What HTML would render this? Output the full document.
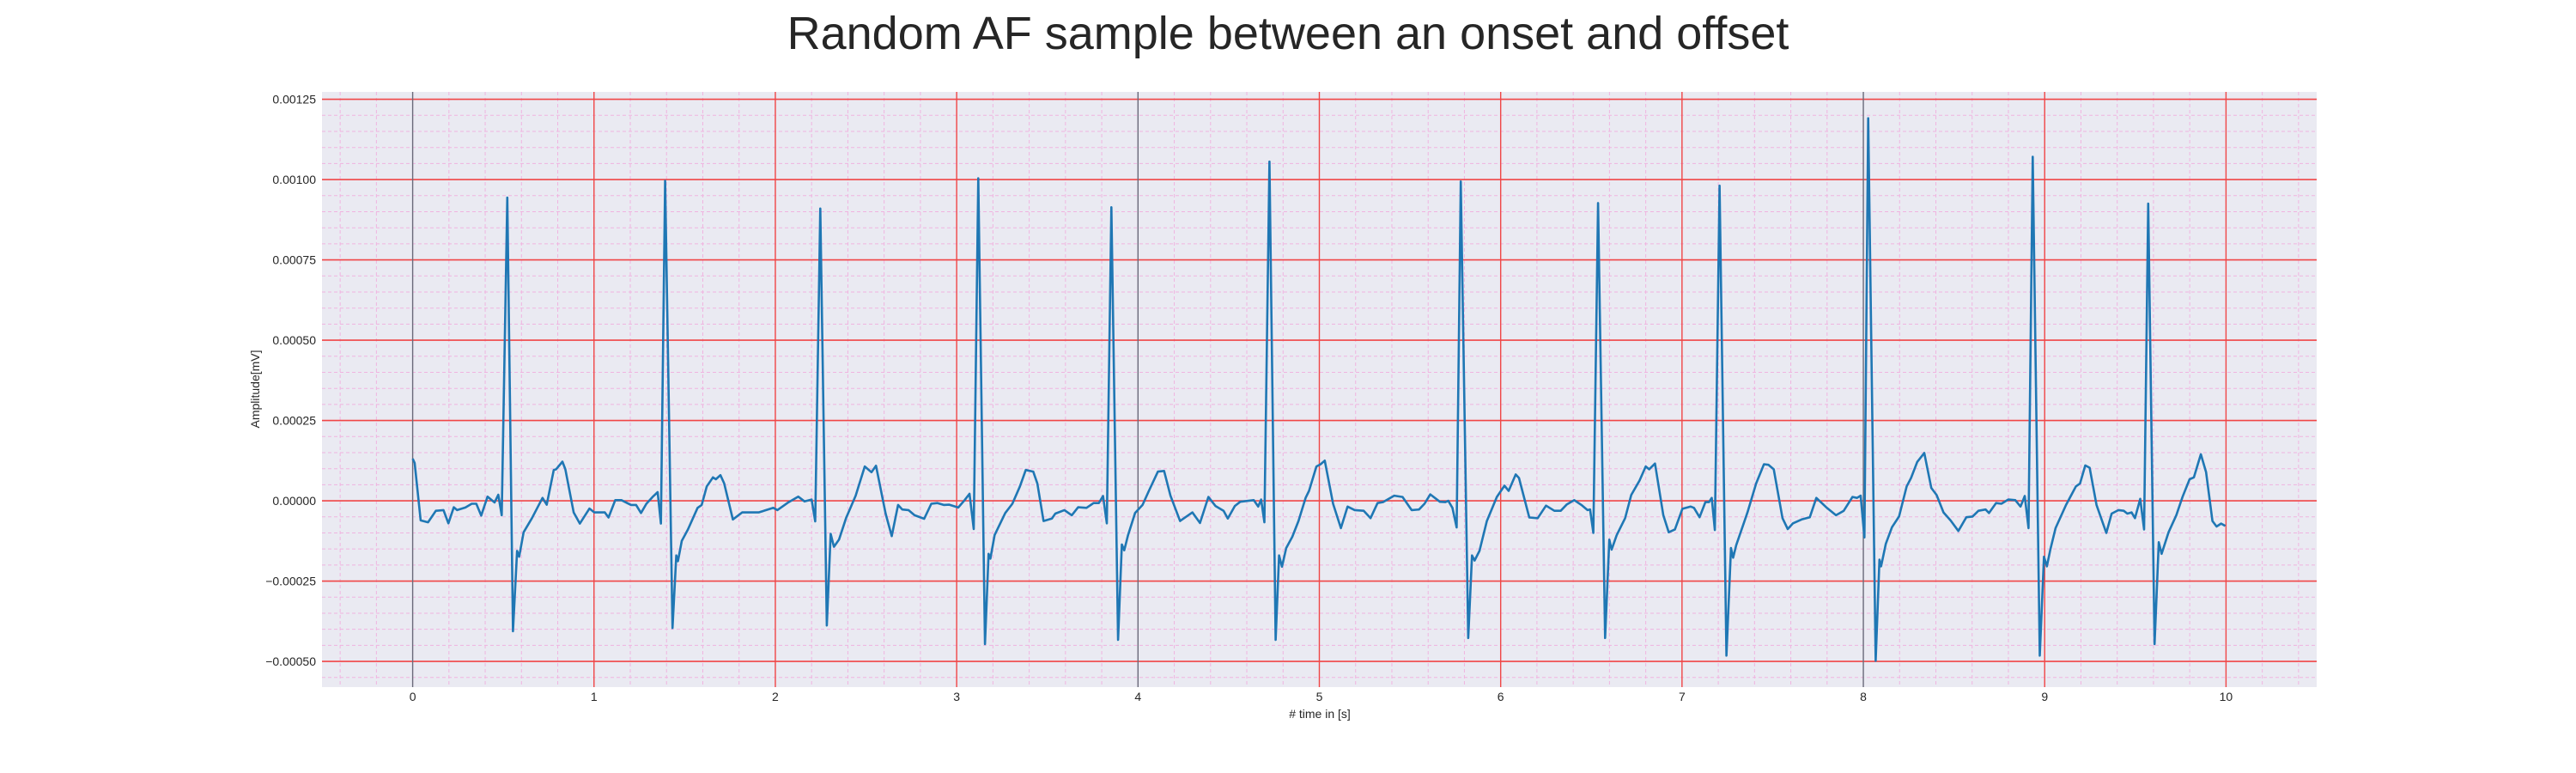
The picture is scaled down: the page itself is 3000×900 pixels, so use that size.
<!DOCTYPE html>
<html><head><meta charset="utf-8"><style>
html,body{margin:0;padding:0;background:#fff;width:3000px;height:900px;overflow:hidden}
svg{display:block}
text{font-family:"Liberation Sans",Arial,sans-serif;fill:#262626}
</style></head><body>
<svg id="chart" width="3000" height="900" viewBox="0 0 3000 900" xmlns="http://www.w3.org/2000/svg">
<text x="1500" y="57" font-size="54" text-anchor="middle">Random AF sample between an onset and offset</text>
<rect x="375" y="107" width="2323" height="693" fill="#eaeaf2"/>
<g id="grid"></g>
<g id="ticks"></g>
<g id="series"></g>
<text transform="translate(302,453) rotate(-90)" font-size="14" text-anchor="middle">Amplitude[mV]</text>
<text x="1537" y="836" font-size="14" text-anchor="middle"># time in [s]</text>
</svg>
<script>
const xTicks=[0,1,2,3,4,5,6,7,8,9,10];
const yTicks=[-0.0005,-0.00025,0,0.00025,0.0005,0.00075,0.001,0.00125];
const yTickLabels=["\u22120.00050","\u22120.00025","0.00000","0.00025","0.00050","0.00075","0.00100","0.00125"];
const grayX=[0,4,8];
const times=[0,0.011,0.044,0.085,0.128,0.170,0.197,0.227,0.245,0.291,0.326,0.351,0.378,0.413,0.452,0.472,0.491,0.522,0.553,0.576,0.587,0.612,0.658,0.716,0.739,0.778,0.791,0.826,0.842,0.888,0.922,0.975,1.002,1.060,1.080,1.117,1.151,1.204,1.232,1.259,1.289,1.323,1.351,1.369,1.392,1.433,1.454,1.463,1.484,1.518,1.571,1.594,1.622,1.656,1.672,1.697,1.718,1.766,1.817,1.858,1.908,1.989,2.011,2.069,2.126,2.161,2.200,2.220,2.248,2.284,2.305,2.323,2.351,2.390,2.443,2.493,2.530,2.555,2.608,2.642,2.677,2.700,2.734,2.768,2.821,2.860,2.894,2.929,2.959,3.009,3.044,3.071,3.094,3.119,3.156,3.176,3.186,3.209,3.268,3.307,3.349,3.381,3.422,3.445,3.479,3.525,3.544,3.594,3.635,3.670,3.716,3.755,3.784,3.807,3.828,3.853,3.890,3.911,3.924,3.945,3.984,4.025,4.060,4.110,4.144,4.179,4.232,4.300,4.342,4.388,4.427,4.472,4.495,4.534,4.564,4.638,4.663,4.679,4.697,4.725,4.759,4.778,4.794,4.817,4.851,4.885,4.924,4.943,4.984,5.007,5.030,5.076,5.119,5.156,5.195,5.245,5.282,5.321,5.351,5.413,5.459,5.509,5.550,5.580,5.612,5.665,5.695,5.711,5.734,5.757,5.780,5.821,5.842,5.856,5.883,5.924,5.979,6.021,6.044,6.083,6.101,6.158,6.204,6.250,6.296,6.331,6.365,6.406,6.445,6.479,6.493,6.511,6.537,6.576,6.599,6.612,6.640,6.686,6.720,6.766,6.800,6.819,6.851,6.897,6.927,6.961,7.002,7.048,7.066,7.097,7.129,7.149,7.164,7.181,7.207,7.245,7.270,7.282,7.299,7.361,7.409,7.452,7.477,7.506,7.554,7.583,7.612,7.660,7.705,7.741,7.795,7.849,7.892,7.940,7.965,7.985,8.006,8.027,8.068,8.089,8.098,8.124,8.158,8.197,8.239,8.263,8.297,8.336,8.375,8.404,8.442,8.481,8.524,8.568,8.602,8.635,8.674,8.693,8.732,8.761,8.799,8.838,8.867,8.890,8.911,8.934,8.973,8.996,9.012,9.031,9.060,9.118,9.172,9.195,9.224,9.248,9.286,9.340,9.369,9.407,9.436,9.456,9.479,9.498,9.527,9.548,9.571,9.606,9.629,9.645,9.683,9.726,9.761,9.799,9.823,9.861,9.890,9.925,9.948,9.973,9.996];
// amplitudes in units of 1e-4 mV
const ampE4=[1.31,1.18,-0.61,-0.67,-0.31,-0.29,-0.70,-0.20,-0.29,-0.21,-0.09,-0.09,-0.46,0.13,-0.05,0.19,-0.45,9.44,-4.06,-1.56,-1.74,-0.98,-0.54,0.09,-0.12,0.96,0.98,1.22,0.98,-0.36,-0.71,-0.24,-0.36,-0.36,-0.52,0.02,0.02,-0.13,-0.13,-0.38,-0.09,0.12,0.27,-0.71,9.96,-3.96,-1.70,-1.88,-1.25,-0.89,-0.22,-0.13,0.45,0.73,0.67,0.80,0.54,-0.58,-0.36,-0.36,-0.36,-0.22,-0.29,-0.06,0.13,-0.02,0.04,-0.64,9.10,-3.88,-1.03,-1.43,-1.21,-0.54,0.16,1.07,0.89,1.09,-0.40,-1.10,-0.13,-0.27,-0.29,-0.45,-0.56,-0.09,-0.07,-0.13,-0.12,-0.21,0.02,0.22,-0.88,10.04,-4.46,-1.65,-1.80,-1.07,-0.38,-0.09,0.45,0.96,0.91,0.54,-0.63,-0.55,-0.40,-0.29,-0.45,-0.20,-0.22,-0.07,-0.07,0.15,-0.70,9.14,-4.33,-1.36,-1.54,-1.07,-0.38,-0.13,0.31,0.91,0.93,0.16,-0.63,-0.36,-0.69,0.12,-0.16,-0.31,-0.55,-0.16,-0.03,0.02,-0.18,0.04,-0.67,10.56,-4.33,-1.70,-2.05,-1.47,-1.12,-0.63,0.09,0.31,1.07,1.14,1.25,-0.09,-0.85,-0.18,-0.29,-0.31,-0.54,-0.07,-0.04,0.16,0.12,-0.29,-0.27,-0.09,0.20,-0.03,-0.04,0.00,-0.22,-0.83,9.94,-4.27,-1.70,-1.86,-1.56,-0.63,0.12,0.47,0.31,0.82,0.71,-0.52,-0.54,-0.15,-0.31,-0.31,-0.11,0.02,-0.13,-0.29,-0.27,-1.00,9.27,-4.27,-1.21,-1.52,-1.07,-0.54,0.18,0.63,1.07,0.98,1.16,-0.45,-0.98,-0.89,-0.25,-0.18,-0.22,-0.51,-0.04,-0.04,0.09,-0.91,9.81,-4.82,-1.47,-1.77,-1.38,-0.36,0.54,1.14,1.12,0.98,-0.54,-0.88,-0.70,-0.58,-0.51,0.09,-0.20,-0.45,-0.31,0.12,0.09,0.16,-1.14,11.91,-4.98,-1.83,-2.04,-1.34,-0.82,-0.49,0.45,0.71,1.21,1.49,0.40,0.18,-0.36,-0.61,-0.94,-0.51,-0.49,-0.31,-0.27,-0.38,-0.07,-0.09,0.04,0.02,-0.18,0.15,-0.85,10.71,-4.82,-1.74,-2.04,-1.52,-0.85,-0.13,0.45,0.54,1.10,1.03,-0.13,-1.00,-0.40,-0.29,-0.31,-0.40,-0.36,-0.54,0.06,-0.89,9.25,-4.46,-1.29,-1.65,-0.98,-0.45,0.13,0.67,0.73,1.45,0.89,-0.63,-0.80,-0.71,-0.78];

const NS="http://www.w3.org/2000/svg";
const L=375,R=2698,T=107,B=800;
const xMin=-0.5,xMax=10.5,yMin=-0.000580,yMax=0.001273;
function xs(t){return L+(t-xMin)/(xMax-xMin)*(R-L);}
function ys(v){return B-(v-yMin)/(yMax-yMin)*(B-T);}
function mk(tag,attrs,parent){const e=document.createElementNS(NS,tag);for(const k in attrs)e.setAttribute(k,attrs[k]);parent.appendChild(e);return e;}
const grid=document.getElementById('grid');
const ticks=document.getElementById('ticks');
for(let i=-2;i<=52;i++){const t=i*0.2;if(t<xMin||t>xMax)continue;
  const ln=mk('line',{x1:xs(t),x2:xs(t),y1:T,y2:B,stroke:'#f0b4e0','stroke-width':1,'stroke-dasharray':'4,3'},grid);
  
  }
for(let i=-12;i<=26;i++){const v=i*0.00005;if(v<yMin||v>yMax)continue;
  const ln=mk('line',{x1:L,x2:R,y1:ys(v),y2:ys(v),stroke:'#f0b4e0','stroke-width':1,'stroke-dasharray':'4,3'},grid);
  
  }
yTicks.forEach((v,i)=>{
  const ln=mk('line',{x1:L,x2:R,y1:ys(v),y2:ys(v),stroke:'#f04646','stroke-width':1.6},grid);
  
  
  const tx=mk('text',{x:L-7,y:ys(v)+5,'font-size':14,'text-anchor':'end'},ticks);
  tx.textContent=yTickLabels[i];
  
  
});
xTicks.forEach(t=>{
  const gray=grayX.indexOf(t)>=0;
  const ln=mk('line',{x1:xs(t),x2:xs(t),y1:T,y2:B,stroke:gray?'#6a6a7a':'#f04646','stroke-width':1.4},grid);
  
  
  const tx=mk('text',{x:xs(t),y:816,'font-size':14,'text-anchor':'middle'},ticks);
  tx.textContent=String(t);
  
  
});
let d='';
for(let i=0;i<times.length;i++){d+=(i?'L':'M')+xs(times[i]).toFixed(1)+','+ys(ampE4[i]*1e-4).toFixed(1);}
const path=mk('path',{d:d,fill:'none',stroke:'#1f77b4','stroke-width':2.6,'stroke-linejoin':'round'},document.getElementById('series'));


</script>
</body></html>
